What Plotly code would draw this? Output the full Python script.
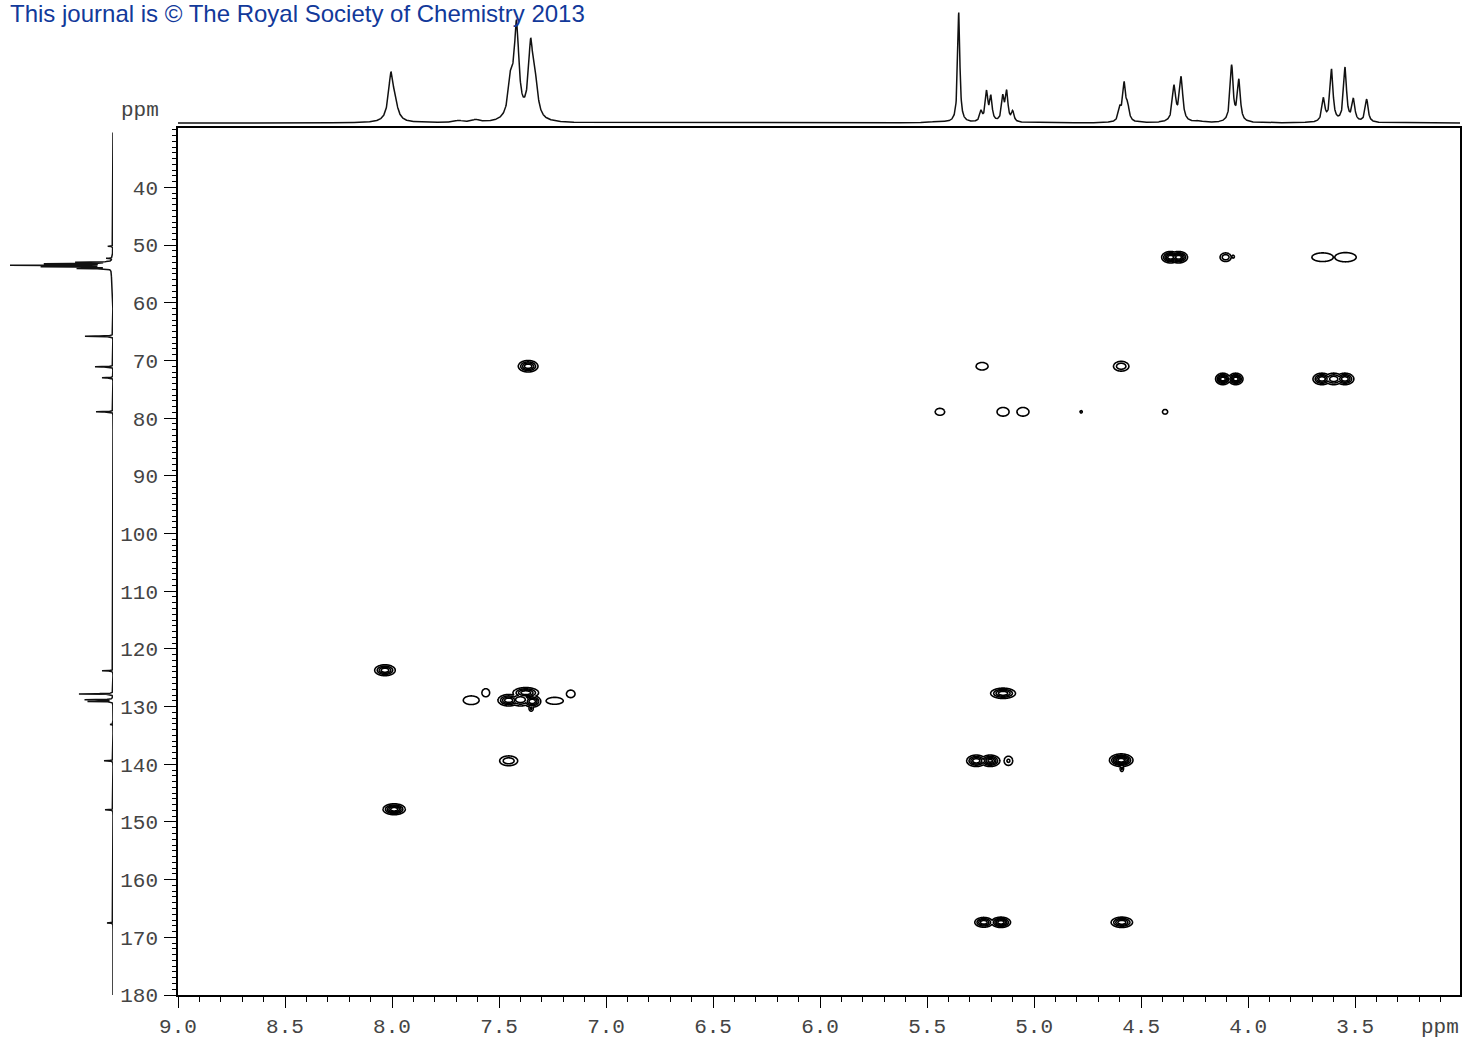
import numpy as np
import plotly.graph_objects as go

# ---------------- data ----------------
# 1H projection (top): peak positions (ppm), heights, half-widths (ppm)
h_ppm = [8.005, 7.985, 7.69, 7.61, 7.445, 7.418, 7.352, 7.33, 5.45, 5.352, 5.248, 5.222, 5.202,
         5.146, 5.128, 5.100, 4.599, 4.579, 4.563, 4.346, 4.313, 4.23, 4.077, 4.043,
         3.648, 3.610, 3.547, 3.508, 3.446]
h_int = [46, 12, 2, 2.5, 36, 92, 72, 29, 1.5, 110, 10, 29, 24,
         24, 29, 10, 12, 37, 14, 35, 44, 1.5, 56, 41,
         23, 52, 54, 22, 23]
h_gam = [0.014, 0.016, 0.02, 0.02, 0.014, 0.013, 0.013, 0.014, 0.03, 0.006, 0.007, 0.007, 0.007,
         0.007, 0.007, 0.007, 0.008, 0.008, 0.008, 0.009, 0.009, 0.02, 0.008, 0.008,
         0.008, 0.008, 0.008, 0.008, 0.008]

# 13C projection (left): peak positions (ppm) and heights
c_ppm = [50.2, 52.3, 52.96, 53.23, 53.5, 53.77, 54.04, 65.8, 71.1, 73.0, 78.9,
         123.8, 127.8, 128.8, 129.1, 133.1, 139.4, 147.9, 167.5]
c_int = [5, 6, 35, 65, 101, 68, 33, 28, 18, 11, 17,
         11, 34, 28, 25, 3, 9, 8, 6]
c_hump_ppm = [55.0]
c_hump_int = [1.5]

# 2D cross peaks: 1H ppm, 13C ppm, relative amplitude, outer half-width (1H ppm), outer half-height (13C ppm)
pk_h = [4.362, 4.325, 4.105, 4.070, 3.652, 3.545,
        7.364, 5.243, 4.593,
        4.118, 4.058, 3.655, 3.600, 3.548,
        5.440, 5.145, 5.052, 4.780, 4.388,
        8.033,
        7.630, 7.562, 7.455, 7.400, 7.375, 7.345, 7.350, 7.240, 7.165,
        5.145,
        7.455, 5.270, 5.205, 5.120, 4.593, 4.590,
        7.990,
        5.235, 5.155, 4.590]
pk_c = [52.1, 52.1, 52.1, 52.0, 52.1, 52.1,
        71.0, 71.0, 71.0,
        73.2, 73.2, 73.2, 73.2, 73.2,
        78.9, 78.9, 78.9, 78.9, 78.9,
        123.7,
        128.9, 127.6, 128.9, 128.8, 127.6, 129.1, 130.3, 129.0, 127.8,
        127.7,
        139.4, 139.4, 139.4, 139.4, 139.3, 140.7,
        147.8,
        167.4, 167.4, 167.4]
pk_a = [6, 6, 3, 1.3, 1.6, 1.6,
        5, 1.6, 3,
        6, 6, 5, 4, 5,
        1.6, 1.6, 1.6, 1.3, 1.6,
        5,
        1.6, 1.6, 5, 4, 5, 5, 2.2, 1.6, 1.6,
        5,
        3, 5, 5.5, 2.2, 7, 2.2,
        6,
        5, 6, 5]
pk_wx = [0.042, 0.042, 0.026, 0.006, 0.050, 0.050,
         0.046, 0.028, 0.036,
         0.034, 0.034, 0.042, 0.042, 0.042,
         0.022, 0.028, 0.028, 0.005, 0.012,
         0.048,
         0.037, 0.018, 0.050, 0.050, 0.060, 0.040, 0.010, 0.040, 0.020,
         0.058,
         0.042, 0.045, 0.045, 0.020, 0.055, 0.008,
         0.052,
         0.042, 0.045, 0.050]
pk_wy = [1.0, 1.0, 0.75, 0.25, 0.75, 0.8,
         1.0, 0.65, 0.85,
         1.0, 1.0, 1.0, 1.0, 1.0,
         0.6, 0.75, 0.75, 0.2, 0.4,
         0.95,
         0.75, 0.7, 1.0, 1.1, 0.9, 1.0, 0.5, 0.6, 0.65,
         0.9,
         0.85, 1.0, 1.0, 0.8, 1.1, 0.55,
         0.95,
         0.85, 0.9, 0.9]

x_tickvals = [9.0, 8.5, 8.0, 7.5, 7.0, 6.5, 6.0, 5.5, 5.0, 4.5, 4.0, 3.5]
x_ticktext = ["9.0", "8.5", "8.0", "7.5", "7.0", "6.5", "6.0", "5.5", "5.0", "4.5", "4.0", "3.5"]
y_tickvals = [40, 50, 60, 70, 80, 90, 100, 110, 120, 130, 140, 150, 160, 170, 180]

# ---------------- figure ----------------
W, H = 1465, 1043
X_RANGE = [9.0, 3.01]
Y_RANGE = [180, 29.7]
MONO = "Liberation Mono"
LINE = "#111111"

fig = go.Figure()

# 2D contours: each peak is a gaussian, combined by maximum on local grids
pk_h = np.array(pk_h); pk_c = np.array(pk_c); pk_a = np.array(pk_a)
pk_wx = np.array(pk_wx); pk_wy = np.array(pk_wy)
sx = pk_wx / np.sqrt(2 * np.log(pk_a))
sy = pk_wy / np.sqrt(2 * np.log(pk_a))

boxes = [[h - 1.5 * wx - 0.01, h + 1.5 * wx + 0.01, c - 1.5 * wy - 0.3, c + 1.5 * wy + 0.3]
         for h, c, wx, wy in zip(pk_h, pk_c, pk_wx, pk_wy)]
merged = True
while merged:
    merged = False
    out = []
    for b in boxes:
        for o in out:
            if b[0] <= o[1] and b[1] >= o[0] and b[2] <= o[3] and b[3] >= o[2]:
                o[0] = min(o[0], b[0]); o[1] = max(o[1], b[1])
                o[2] = min(o[2], b[2]); o[3] = max(o[3], b[3])
                merged = True
                break
        else:
            out.append(list(b))
    boxes = out

for b in boxes:
    xs = np.arange(b[0], b[1], 0.002)
    ys = np.arange(b[2], b[3], 0.05)
    XX, YY = np.meshgrid(xs, ys)
    Z = np.zeros_like(XX)
    for h, c, a, gx, gy in zip(pk_h, pk_c, pk_a, sx, sy):
        Z = np.maximum(Z, a * np.exp(-((XX - h) ** 2) / (2 * gx ** 2) - ((YY - c) ** 2) / (2 * gy ** 2)))
    fig.add_trace(go.Contour(
        x=xs, y=ys, z=np.round(Z, 4), xaxis="x", yaxis="y",
        contours=dict(start=1.0, end=12, size=1.0, coloring="lines"),
        colorscale=[[0, "black"], [1, "black"]], line=dict(width=1.6),
        showscale=False, hoverinfo="skip"))

# top 1H projection
hx = np.arange(3.0, 9.0005, 0.001)
hy = np.zeros_like(hx)
for p, i, g in zip(h_ppm, h_int, h_gam):
    hy += i / (1 + ((hx - p) / g) ** 2)
fig.add_trace(go.Scatter(x=hx, y=hy, xaxis="x2", yaxis="y2", mode="lines",
                         line=dict(color=LINE, width=1.5), hoverinfo="skip"))

# left 13C projection
cy = np.arange(30.5, 180.0, 0.01)
cx = np.zeros_like(cy)
for p, i in zip(c_ppm, c_int):
    cx += i / (1 + ((cy - p) / 0.04) ** 2)
for p, i in zip(c_hump_ppm, c_hump_int):
    cx += i / (1 + ((cy - p) / 2.0) ** 2)
fig.add_trace(go.Scatter(x=cx, y=cy, xaxis="x3", yaxis="y3", mode="lines",
                         line=dict(color=LINE, width=1.5), hoverinfo="skip"))

xd = [178 / W, 1460 / W]
yd = [48 / H, 915 / H]

fig.update_layout(
    template="none",
    width=W, height=H, margin=dict(l=0, r=0, t=0, b=0, pad=0), autosize=False,
    paper_bgcolor="white", plot_bgcolor="white", showlegend=False,
    xaxis=dict(domain=xd, range=X_RANGE, showgrid=False, zeroline=False, automargin=False,
               showline=True, linecolor="black", linewidth=1.6, mirror=True,
               ticks="outside", ticklen=11, tickwidth=1.4, tickcolor="black",
               tickvals=x_tickvals, ticktext=x_ticktext, ticklabelstandoff=0,
               tickfont=dict(family=MONO, size=21, color="#444"),
               minor=dict(dtick=0.1, ticks="outside", ticklen=5, tickwidth=1.2, tickcolor="black")),
    yaxis=dict(domain=yd, range=Y_RANGE, showgrid=False, zeroline=False, automargin=False,
               showline=True, linecolor="black", linewidth=1.6, mirror=True,
               ticks="outside", ticklen=12, tickwidth=1.4, tickcolor="black",
               tickvals=y_tickvals, ticklabelstandoff=2,
               tickfont=dict(family=MONO, size=21, color="#444"),
               minor=dict(dtick=1, ticks="outside", ticklen=4, tickwidth=1, tickcolor="black")),
    xaxis2=dict(domain=xd, range=X_RANGE, visible=False, anchor="y2", automargin=False),
    yaxis2=dict(domain=[917 / H, 1033 / H], range=[-3, 113], visible=False, anchor="x2", automargin=False),
    xaxis3=dict(domain=[10 / W, 113 / W], range=[103, 0], visible=False, anchor="y3", automargin=False),
    yaxis3=dict(domain=yd, range=Y_RANGE, visible=False, anchor="x3", automargin=False),
    annotations=[
        dict(text="ppm", xref="paper", yref="paper", x=140 / W, y=1 - 110 / H,
             xanchor="center", yanchor="middle", showarrow=False,
             font=dict(family=MONO, size=21, color="#444")),
        dict(text="ppm", xref="paper", yref="paper", x=1440 / W, y=1 - 1027 / H,
             xanchor="center", yanchor="middle", showarrow=False,
             font=dict(family=MONO, size=21, color="#444")),
        dict(text="This journal is \u00a9 The Royal Society of Chemistry 2013", xref="paper", yref="paper",
             x=8 / W, y=1 - 14 / H, xanchor="left", yanchor="middle", showarrow=False,
             font=dict(family="Liberation Sans", size=24, color="#12399a")),
    ],
)

fig.write_html("out.html", config={"displayModeBar": False})
